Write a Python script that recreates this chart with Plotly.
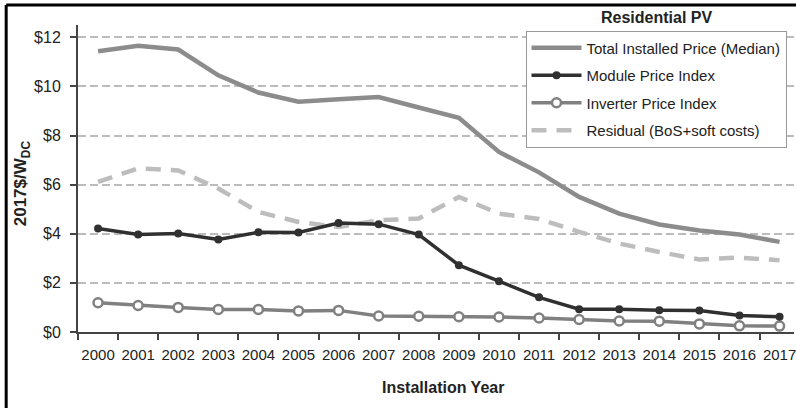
import plotly.graph_objects as go

years = [str(y) for y in range(2000, 2018)]
total_price = [11.43, 11.65, 11.5, 10.45, 9.75, 9.38, 9.48, 9.57, 9.14, 8.72, 7.33, 6.5, 5.5, 4.82, 4.38, 4.13, 3.97, 3.67]
module_idx = [4.21, 3.97, 4.01, 3.77, 4.06, 4.05, 4.44, 4.39, 3.97, 2.72, 2.07, 1.41, 0.93, 0.93, 0.89, 0.88, 0.67, 0.62]
inverter_idx = [1.19, 1.08, 1.0, 0.92, 0.92, 0.86, 0.88, 0.65, 0.64, 0.62, 0.61, 0.57, 0.51, 0.45, 0.44, 0.33, 0.25, 0.24]
residual = [6.11, 6.66, 6.58, 5.84, 4.89, 4.48, 4.28, 4.55, 4.62, 5.5, 4.82, 4.6, 4.08, 3.6, 3.26, 2.95, 3.03, 2.92]
y_ticks = [0, 2, 4, 6, 8, 10, 12]
y_labels = ["$0", "$2", "$4", "$6", "$8", "$10", "$12"]

FONT = "Liberation Sans, Arial, sans-serif"

fig = go.Figure()
fig.add_trace(go.Scatter(x=years, y=residual, mode="lines", name="Residual (BoS+soft costs)",
                         line=dict(color="#bdbdbd", width=4.5, dash="15px,10px"),
                         legendrank=4, legendgroup="d"))
fig.add_trace(go.Scatter(x=years, y=total_price, mode="lines", name="Total Installed Price (Median)",
                         line=dict(color="#8c8c8c", width=4.5), legendrank=1, legendgroup="a"))
fig.add_trace(go.Scatter(x=years, y=inverter_idx, mode="lines+markers", name="Inverter Price Index",
                         line=dict(color="#808080", width=3.5),
                         marker=dict(symbol="circle", size=9, color="white", line=dict(color="#808080", width=2.5)),
                         legendrank=3, legendgroup="c"))
fig.add_trace(go.Scatter(x=years, y=module_idx, mode="lines+markers", name="Module Price Index",
                         line=dict(color="#303030", width=3.5),
                         marker=dict(symbol="circle", size=8, color="#303030"),
                         legendrank=2, legendgroup="b"))

fig.update_layout(
    width=796, height=408,
    margin=dict(l=78, r=0, t=25, b=76),
    paper_bgcolor="white", plot_bgcolor="white",
    font=dict(family=FONT, size=15, color="#222"),
    showlegend=True,
    legend=dict(x=0.625, y=0.982, xanchor="left", yanchor="top",
                bgcolor="white", bordercolor="#999", borderwidth=1,
                font=dict(size=15, color="#222"), traceorder="grouped", tracegroupgap=5,
                itemwidth=50),
    xaxis=dict(type="category", range=[-0.5, 17.36], showgrid=False,
               showline=True, linecolor="#444", linewidth=2,
               ticks="outside", tickson="boundaries", ticklen=6, tickcolor="#444", tickwidth=2,
               tickangle=0, ticklabelstandoff=8, tickfont=dict(size=15, color="#222")),
    yaxis=dict(range=[0, 12.5], tickvals=y_ticks, ticktext=y_labels,
               showgrid=True, gridcolor="#bcbcbc", gridwidth=2, griddash="8px,4px",
               showline=True, linecolor="#444", linewidth=2,
               ticks="outside", ticklen=6, tickcolor="#444", tickwidth=2,
               ticklabelstandoff=6, tickfont=dict(size=16, color="#222"), zeroline=False),
)

fig.add_annotation(text="<b>Residential PV</b>", xref="paper", yref="paper",
                   x=0.808, y=1.026, xanchor="center", yanchor="middle",
                   showarrow=False, font=dict(size=16, color="#222"))
fig.add_annotation(text="<b>Installation Year</b>", xref="paper", yref="paper",
                   x=0.51, y=-0.182, xanchor="center", yanchor="middle",
                   showarrow=False, font=dict(size=16, color="#222"))
fig.add_annotation(text="<b>2017$/W<sub>DC</sub></b>", xref="paper", yref="paper",
                   x=-0.078, y=0.485, xanchor="center", yanchor="middle", textangle=-90,
                   showarrow=False, font=dict(size=17, color="#222"))

# outer frame (left and top edges visible)
fig.add_shape(type="line", xref="paper", yref="paper", x0=-0.1003, x1=-0.1003, y0=-0.3, y1=1.065,
              line=dict(color="black", width=3), layer="above")
fig.add_shape(type="line", xref="paper", yref="paper", x0=-0.1003, x1=1.02, y0=1.065, y1=1.065,
              line=dict(color="black", width=3), layer="above")

fig.write_html("out.html", config={"displayModeBar": False},
               post_script="document.body.style.margin='0px';")
